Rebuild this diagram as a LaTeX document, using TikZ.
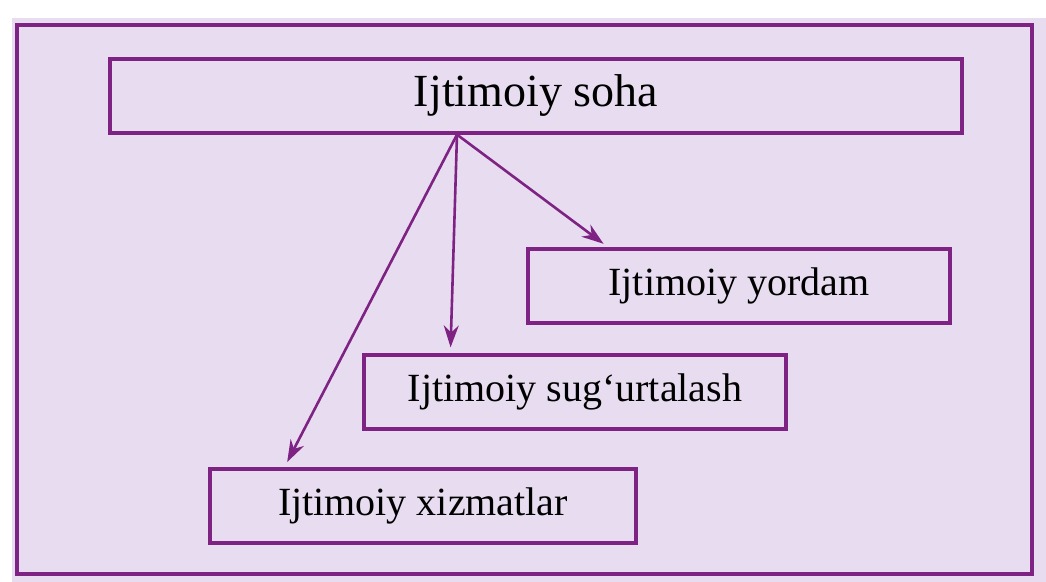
\documentclass[tikz,border=0pt]{standalone}
\usepackage{fontspec}
\setmainfont{Liberation Serif}
\usetikzlibrary{positioning,arrows.meta}
\definecolor{plum}{HTML}{7E2383}
\definecolor{lilac}{HTML}{E8DDF0}

\begin{document}
\begin{tikzpicture}[
x=0.5pt,y=-0.5pt,
>={Stealth[length=11pt,width=7.5pt]},
area/.style={
	draw=plum,
	line width=1.6pt,
	minimum height=37pt,
	inner sep=0pt,
	font=\fontsize{20}{24}\selectfont
},
branch/.style={
	->,
	draw=plum,
	line width=1.3pt,
	shorten >=3pt
}
]
\fill[white] (0,0) rectangle (1046,582);
\fill[lilac] (12,18) rectangle (1046,582);
\draw[plum,line width=1.8pt] (17,25) rectangle (1032,574);

\node[area,minimum width=426pt,font=\fontsize{23}{27}\selectfont] (soha) at (536,96) {Ijtimoiy soha};
\node[area,minimum width=211pt] (yordam) at (739,286) {Ijtimoiy yordam};
\node[area,minimum width=211pt] (sugurta) at (575,392) {Ijtimoiy sug‘urtalash};
\node[area,minimum width=213pt] (xizmat) at (423,506) {Ijtimoiy xizmatlar};

\coordinate (fork) at ([xshift=-39.5pt]soha.south);

\draw[branch] (fork) -- ([xshift=41pt]yordam.north west);
\draw[branch] (fork) -- ([xshift=44pt]sugurta.north west);
\draw[branch] (fork) -- ([xshift=38pt]xizmat.north west);
\end{tikzpicture}
\end{document}
